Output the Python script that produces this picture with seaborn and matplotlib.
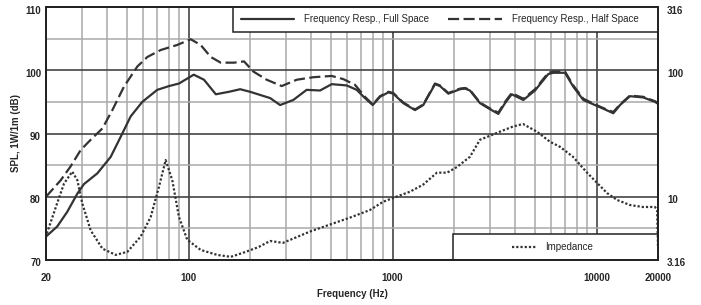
import matplotlib
matplotlib.use("Agg")
import matplotlib.pyplot as plt
import matplotlib.ticker as mticker
import matplotlib.transforms as mtransforms
from matplotlib.patches import Rectangle
import seaborn as sns

# Frequency response, full space (Hz / dB)
full_freq = [20, 22.7, 25.4, 28.5, 30.7, 35.7, 41.5, 46.5, 52.0, 59.3, 70.2, 80.2, 89.7, 106,
             119, 136, 158, 179, 200, 224, 251, 281, 326, 379, 441, 503, 596, 667, 732, 799,
             868, 953, 1008, 1128, 1288, 1414, 1614, 1708, 1876, 2140, 2264, 2394, 2682, 2946,
             3298, 3557, 3836, 4374, 4989, 5798, 6137, 7001, 7688, 8608, 9822, 10996, 12077,
             13026, 14580, 16944, 19330, 20000]
full_spl = [73.7, 75.3, 77.6, 80.5, 82.0, 83.7, 86.3, 89.5, 92.7, 95.0, 96.9, 97.5, 97.9, 99.3,
            98.5, 96.2, 96.6, 97.0, 96.6, 96.1, 95.6, 94.5, 95.3, 96.9, 96.8, 97.8, 97.6, 96.9, 95.6, 94.5,
            95.8, 96.5, 96.3, 94.8, 93.7, 94.5, 97.8, 97.5, 96.3, 97.0, 97.1, 96.8, 94.8, 94.0,
            93.1, 94.8, 96.2, 95.3, 96.8, 99.4, 99.6, 99.6, 97.4, 95.3, 94.5, 93.8, 93.2,
            94.5, 95.9, 95.7, 95.0, 94.7]

# Frequency response, half space (Hz / dB)
half_freq = [20, 23.6, 26.4, 29.6, 33.1, 37.8, 42.3, 48.2, 56.1, 62.8, 73.0, 88.0, 102.4, 114.6,
             128.4, 143.7, 167, 187, 207.6, 241.5, 286, 339, 409, 503, 573, 654, 732, 799,
             868, 953, 1008, 1128, 1288, 1414, 1614, 1708, 1876, 2140, 2264, 2394, 2682, 2946,
             3298, 3557, 3836, 4374, 4989, 5798, 6137, 7001, 7688, 8608, 9822, 10996, 12077,
             13026, 14580, 16944, 19330, 20000]
half_spl = [80.0, 82.6, 84.8, 87.4, 89.0, 90.8, 93.7, 97.4, 100.6, 102.1, 103.2, 104.0, 104.9, 104.0,
            102.1, 101.2, 101.2, 101.4, 99.8, 98.5, 97.5, 98.5, 98.9, 99.1, 98.6, 97.7, 95.8, 94.6,
            95.9, 96.6, 96.4, 94.9, 93.8, 94.6, 97.9, 97.6, 96.4, 97.1, 97.2, 96.9, 94.9, 94.1,
            93.3, 95.0, 96.4, 95.5, 97.0, 99.6, 99.8, 99.8, 97.6, 95.5, 94.6, 93.9, 93.4,
            94.6, 96.0, 95.8, 95.1, 94.8]

# Impedance (Hz / ohm)
imp_freq = [20.2, 22.7, 24.5, 26.9, 28.5, 30.1, 33.1, 37.8, 43.9, 50.1, 58.2, 65.2, 71.6, 77.2,
            83.2, 89.7, 98.5, 114.6, 138, 161, 187, 220, 251, 290, 394, 493, 618, 774, 898,
            1004, 1216, 1410, 1650, 1849, 2070, 2394, 2680, 3360, 3890, 4356, 5100, 5910, 6620,
            7660, 8980, 10040, 11250, 12590, 14580, 16870, 19320, 19800, 20000]
imp_ohm = [5.13, 8.91, 12.7, 15.8, 13.5, 8.91, 5.43, 3.89, 3.47, 3.67, 4.84, 6.92, 12.0, 19.5,
           13.5, 6.92, 4.57, 3.80, 3.47, 3.35, 3.63, 4.0, 4.47, 4.32, 5.31, 6.03, 6.84, 7.85, 9.12,
           9.77, 10.96, 12.45, 15.5, 15.5, 17.2, 20.7, 28.2, 32.7, 35.9, 37.6, 32.7, 27.2, 24.8,
           20.7, 15.5, 12.9, 10.7, 9.44, 8.6, 8.3, 8.3, 7.85, 4.0]

x_ticks = [20, 100, 1000, 10000, 20000]
x_tick_labels = ["20", "100", "1000", "10000", "20000"]
x_minor = [30, 40, 50, 60, 70, 80, 90, 200, 300, 400, 500, 600, 700, 800, 900,
           2000, 3000, 4000, 5000, 6000, 7000, 8000, 9000]
spl_ticks = [70, 80, 90, 100, 110]
spl_minor = [75, 85, 95, 105]
imp_ticks = [3.1623, 10, 100, 316.23]
imp_tick_labels = ["3.16", "10", "100", "316"]

sns.set_style("white")
plt.rcParams["font.family"] = ["Liberation Sans", "DejaVu Sans"]

line_col = "#333333"
W, H = 701, 305
fig, ax = plt.subplots(figsize=(W / 100, H / 100), dpi=100)
fig.subplots_adjust(left=46 / W, right=658 / W, top=1 - 7 / H, bottom=1 - 260 / H)
ax.set_xscale("log")

sns.lineplot(x=full_freq, y=full_spl, ax=ax, color=line_col, lw=1.6,
             label="Frequency Resp., Full Space")
sns.lineplot(x=half_freq, y=half_spl, ax=ax, color=line_col, lw=1.6, linestyle=(0, (5, 2)),
             label="Frequency Resp., Half Space")
if ax.get_legend():
    ax.get_legend().remove()

ax.set_xlim(20, 20000)
ax.set_ylim(70, 110)
ax.xaxis.set_major_locator(mticker.FixedLocator(x_ticks))
ax.xaxis.set_major_formatter(mticker.FixedFormatter(x_tick_labels))
ax.xaxis.set_minor_locator(mticker.FixedLocator(x_minor))
ax.xaxis.set_minor_formatter(mticker.NullFormatter())
ax.set_yticks(spl_ticks)
ax.set_yticks(spl_minor, minor=True)
ax.grid(which="major", color="#444444", lw=1.2)
ax.grid(which="minor", color="#aaaaaa", lw=1.1)
ax.set_axisbelow(True)
ax.tick_params(axis="both", which="both", length=0, labelsize=7)
ax.tick_params(axis="x", pad=9.5)
ax.tick_params(axis="y", pad=3.6)
ax.set_xlabel("Frequency (Hz)", fontsize=7, fontweight="bold", labelpad=4)
ax.set_ylabel("SPL, 1W/1m (dB)", fontsize=7, fontweight="bold", labelpad=3)

ax2 = ax.twinx()
ax2.set_yscale("log")
sns.lineplot(x=imp_freq, y=imp_ohm, ax=ax2, color=line_col, lw=1.6, linestyle=(0, (1, 0.9)),
             label="Impedance")
if ax2.get_legend():
    ax2.get_legend().remove()
ax2.set_ylim(3.1623, 316.23)
ax2.yaxis.set_major_locator(mticker.FixedLocator(imp_ticks))
ax2.yaxis.set_major_formatter(mticker.FixedFormatter(imp_tick_labels))
ax2.yaxis.set_minor_locator(mticker.NullLocator())
ax2.tick_params(axis="y", which="both", length=0, labelsize=7, pad=6.5)
ax2.set_ylabel("")

for a in (ax, ax2):
    for s in a.spines.values():
        s.set_color("#222222")
        s.set_linewidth(1.3)
    for lab in a.get_xticklabels() + a.get_yticklabels():
        lab.set_fontweight("bold")

shift = mtransforms.ScaledTranslation(0, -2.5 / 100, fig.dpi_scale_trans)
for a in (ax, ax2):
    for t in a.yaxis.get_major_ticks():
        t.label1.set_transform(t.label1.get_transform() + shift)
        t.label2.set_transform(t.label2.get_transform() + shift)

# legend boxes
pw, ph = 612, 253
ax2.add_patch(Rectangle(((233 - 46) / pw, (260 - 32) / ph), (658 - 233) / pw, 25 / ph,
                        transform=ax2.transAxes, fc="white", ec="#222222", lw=1.1, zorder=1))
ax2.add_patch(Rectangle(((453 - 46) / pw, 0), (658 - 453) / pw, 26 / ph,
                        transform=ax2.transAxes, fc="white", ec="#222222", lw=1.1, zorder=1))

h1, l1 = ax.get_legend_handles_labels()
h2, l2 = ax2.get_legend_handles_labels()
leg1 = ax2.legend(h1, l1, ncol=2, loc="center", bbox_to_anchor=(0.643, 0.951), frameon=False,
                  fontsize=7, handlelength=5.5, handletextpad=1.0, columnspacing=2.0,
                  borderpad=0, borderaxespad=0)
ax2.add_artist(leg1)
ax2.legend(h2, l2, loc="center", bbox_to_anchor=(0.828, 0.0514), frameon=False,
           fontsize=7, handlelength=2.5, handletextpad=0.9, borderpad=0, borderaxespad=0)

fig.savefig("out.png", dpi=100)
